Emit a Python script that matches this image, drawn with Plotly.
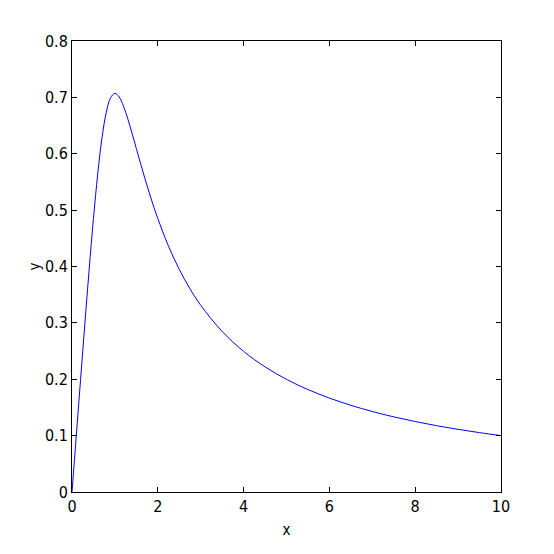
import plotly.graph_objects as go

# values
x_vals = [0, 0.1, 0.2, 0.3, 0.4, 0.5, 0.6, 0.7, 0.8, 0.9, 1.0,
          1.1, 1.2, 1.3, 1.4, 1.5, 1.6, 1.7, 1.8, 1.9, 2.0,
          2.25, 2.5, 2.75, 3.0, 3.5, 4.0, 4.5, 5.0, 5.5, 6.0,
          6.5, 7.0, 7.5, 8.0, 8.5, 9.0, 9.5, 10.0]
y_vals = [0, 0.100, 0.1998, 0.2988, 0.3950, 0.4851, 0.5645, 0.6286, 0.6738, 0.6994, 0.7071,
          0.7007, 0.6845, 0.6620, 0.6363, 0.6092, 0.5822, 0.5559, 0.5308, 0.5072, 0.4851,
          0.4360, 0.3950, 0.3605, 0.3313, 0.2848, 0.2495, 0.2220, 0.1998, 0.1817, 0.1666,
          0.1538, 0.1428, 0.1333, 0.1250, 0.1176, 0.1111, 0.1053, 0.1000]

x_ticks = [0, 2, 4, 6, 8, 10]
y_ticks = [0, 0.1, 0.2, 0.3, 0.4, 0.5, 0.6, 0.7, 0.8]

fig = go.Figure()
fig.add_trace(go.Scatter(
    x=x_vals, y=y_vals, mode="lines",
    line=dict(color="#0000ff", width=1, shape="spline"),
    showlegend=False,
))

axis_style = dict(
    showline=True, linecolor="black", linewidth=1, mirror="ticks",
    ticks="inside", ticklen=5, tickcolor="black",
    showgrid=False, zeroline=False,
    tickfont=dict(size=16, color="black"),
)

# page body adds an 8px offset, so the figure is 8px smaller
fig.update_layout(
    width=546, height=546,
    margin=dict(l=64, r=53, t=33, b=62),
    plot_bgcolor="white", paper_bgcolor="white",
    font=dict(family="DejaVu Sans Condensed, Liberation Sans Narrow, Liberation Sans, Arial", size=15, color="black"),
)
fig.update_xaxes(range=[0, 10], tickvals=x_ticks, title=dict(text="x", standoff=9, font=dict(size=15)), **axis_style)
fig.update_yaxes(range=[0, 0.8], tickvals=y_ticks, title=dict(text="y", standoff=0, font=dict(size=15)), **axis_style)

fig.write_html("out.html")
